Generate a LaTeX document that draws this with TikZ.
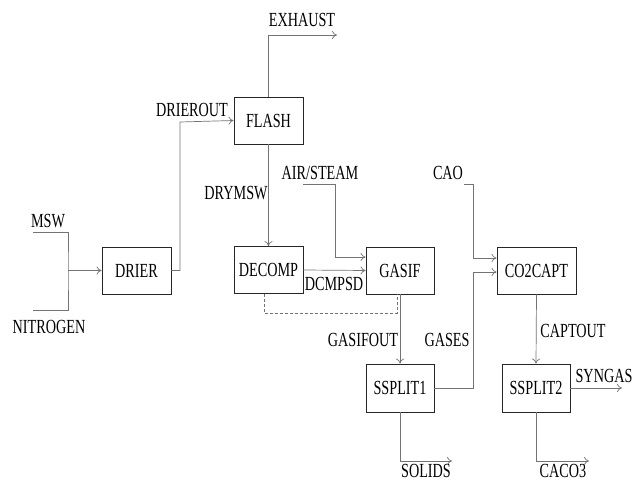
\documentclass[tikz,border=0pt]{standalone}
\usepackage{fontspec}
\newfontfamily\diafont[FakeStretch=0.71]{Liberation Serif}
\usetikzlibrary{arrows.meta}
\begin{document}
\begin{tikzpicture}[x=1bp,y=-1bp,
  every node/.style={font=\diafont\fontsize{20bp}{22bp}\selectfont},
  blk/.style={draw=black!85, line width=0.9bp, minimum height=47bp, minimum width=69bp, inner sep=0pt},
  conn/.style={draw=black!55, line width=0.7bp},
  arr/.style={conn, -{To[length=5bp,width=8bp]}},
  lbl/.style={inner sep=0pt, text=black}]
\useasboundingbox (0,0) rectangle (642,481);
% blocks
\node[blk] (drier) at (136.5,270.5) {DRIER};
\node[blk] (flash) at (268.5,120.5) {FLASH};
\node[blk] (decomp) at (268.5,270) {DECOMP};
\node[blk, minimum width=68bp] (gasif) at (400,270.5) {GASIF};
\node[blk, minimum width=68bp, minimum height=48bp] (ssplit1) at (400,388) {SSPLIT1};
\node[blk, minimum width=79bp] (co2capt) at (536.5,270.5) {CO2CAPT};
\node[blk, minimum width=68bp, minimum height=48bp] (ssplit2) at (536,388) {SSPLIT2};
% labels
\node[lbl] (lmsw) at (48,221) {MSW};
\node[lbl] (lnit) at (49,327) {NITROGEN};
\node[lbl] (ldrierout) at (192,110) {DRIEROUT};
\node[lbl] (lexh) at (302,20) {EXHAUST};
\node[lbl] (ldrymsw) at (236,193) {DRYMSW};
\node[lbl] (lair) at (320,173) {AIR/STEAM};
\node[lbl] (ldcmpsd) at (334,284) {DCMPSD};
\node[lbl] (lgasifout) at (363,340) {GASIFOUT};
\node[lbl] (lgases) at (447,340) {GASES};
\node[lbl] (lcao) at (448,173) {CAO};
\node[lbl] (lcaptout) at (573,331) {CAPTOUT};
\node[lbl] (lsyngas) at (604,376) {SYNGAS};
\node[lbl] (lsolids) at (426,471) {SOLIDS};
\node[lbl] (lcaco3) at (563,471) {CACO3};
% coordinates
\coordinate (mswin) at (33,232);
\coordinate (nitin) at (33,310);
\coordinate (mix) at (68,270.5);
\coordinate (dbend) at (180,122);
\coordinate (exend) at (337,35);
\coordinate (airs) at (303,184);
\coordinate (airb) at (335,257);
\coordinate (dsh) at (264,313);
\coordinate (gbend) at (473,272);
\coordinate (caos) at (464,184);
\coordinate (caob) at (473,258);
\coordinate (synend) at (622,388);
\coordinate (solend) at (452,461);
\coordinate (cacoend) at (589,461);
% connectors
\draw[conn] (mswin) -| (mix) |- (nitin);
\draw[arr] (mix) -- (drier.west);
\draw[arr] (drier.east) -| (dbend) -- (flash.west);
\draw[arr] (flash.north) |- (exend);
\draw[arr] (flash.south) -- (decomp.north);
\draw[arr] (airs) -| (airb) -- (gasif.west |- airb);
\draw[arr] (decomp.east) -- (gasif.west);
\draw[conn, dash pattern=on 3bp off 2bp] (decomp.south -| dsh) -- (dsh) -| ([xshift=-3bp]gasif.south);
\draw[arr] (gasif.south) -- (ssplit1.north);
\draw[arr] (ssplit1.east) -| (gbend) -- (co2capt.west |- gbend);
\draw[arr] (caos) -| (caob) -- (co2capt.west |- caob);
\draw[arr] (co2capt.south) -- (ssplit2.north);
\draw[arr] (ssplit2.east) -- (synend);
\draw[arr] (ssplit1.south) |- (solend);
\draw[arr] (ssplit2.south) |- (cacoend);
\end{tikzpicture}
\end{document}
